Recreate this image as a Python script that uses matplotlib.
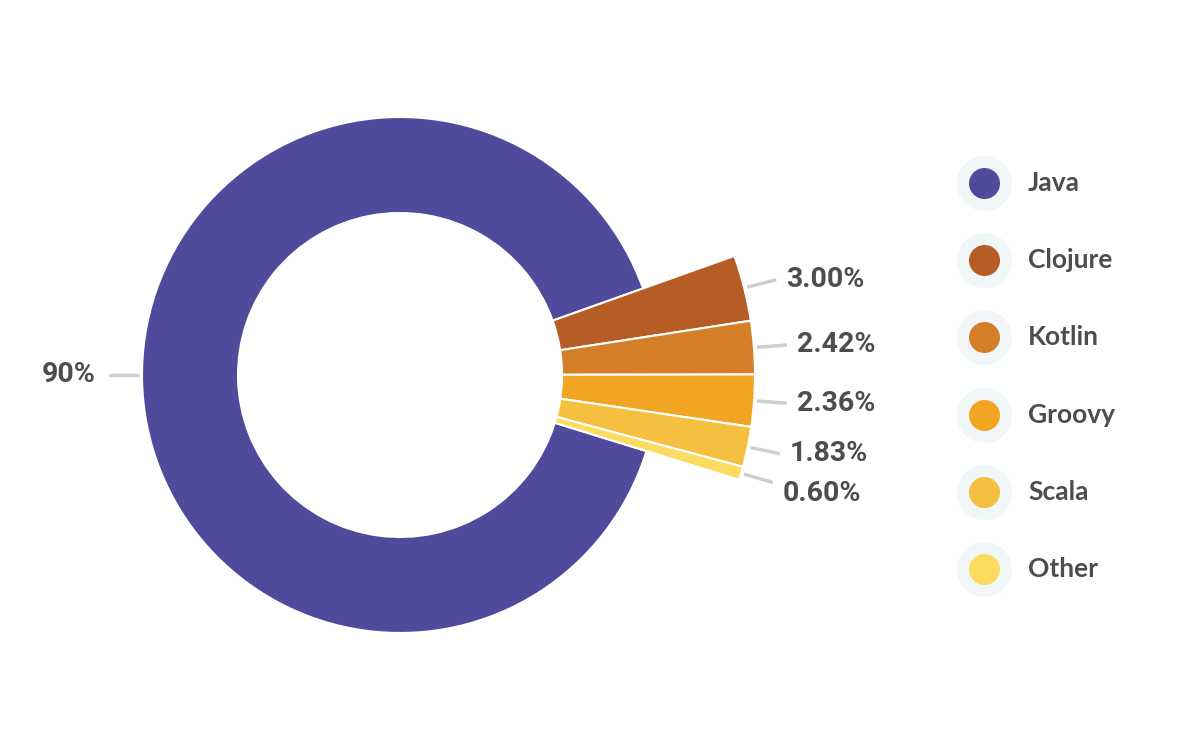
import numpy as np
import matplotlib.pyplot as plt

# данные
languages = ["Java", "Clojure", "Kotlin", "Groovy", "Scala", "Other"]
shares = [89.79, 3.00, 2.42, 2.36, 1.83, 0.60]
share_labels = ["90%", "3.00%", "2.42%", "2.36%", "1.83%", "0.60%"]
colors = ["#4f4a9c", "#b55d25", "#d47f28", "#f2a423", "#f5bf3f", "#fcdc60"]

W, H = 1200, 741
cx, cy = 400, H - 375
r_in = 162
r_java = 258
r_small = 355
text_col = "#4d4d4d"

fig = plt.figure(figsize=(W / 100, H / 100), dpi=100)
ax = fig.add_axes([0, 0, 1, 1])

total = sum(shares)
start = 19.6 + shares[0] / total * 360

wedges, _ = ax.pie(shares, colors=colors, startangle=start, counterclock=False,
                   radius=r_small, center=(cx, cy),
                   wedgeprops=dict(width=r_small - r_in, edgecolor="white", linewidth=1.5))
wedges[0].set_radius(r_java)
wedges[0].set_width(r_java - r_in)

# подписи
prev_y = None
for i, w in enumerate(wedges):
    mid = np.deg2rad((w.theta1 + w.theta2) / 2)
    r0 = w.r + 3
    r1 = w.r + 33
    x0, y0 = cx + r0 * np.cos(mid), cy + r0 * np.sin(mid)
    x1, y1 = cx + r1 * np.cos(mid), cy + r1 * np.sin(mid)
    if i == 0:
        y0 = y1 = cy
    ax.plot([x0, x1], [y0, y1], color="#cfcfcf", lw=2.5, solid_capstyle="butt")
    ha = "left" if np.cos(mid) >= 0 else "right"
    tx = x1 + (10 if ha == "left" else -13)
    ty = y1
    if i > 0:
        if prev_y is not None and prev_y - ty < 40:
            ty = prev_y - 40
        prev_y = ty
    ax.text(tx, ty, share_labels[i], ha=ha, va="center", fontsize=20.5,
            fontweight="bold", family="Roboto", color=text_col)

# легенда
for i, (name, c) in enumerate(zip(languages, colors)):
    ly = H - (183 + i * 77.2)
    ax.scatter([984], [ly], s=(55 * 0.72) ** 2, color="#f1f6f9", zorder=3, lw=0)
    ax.scatter([984], [ly], s=(31 * 0.72) ** 2, color=c, zorder=4, lw=0)
    ax.text(1028, ly, name, ha="left", va="center", fontsize=19,
            fontweight="bold", family="Lato", color=text_col)

ax.set_xlim(0, W)
ax.set_ylim(0, H)
ax.set_aspect("auto")
ax.axis("off")

fig.savefig("out.png", dpi=100, facecolor="white")
